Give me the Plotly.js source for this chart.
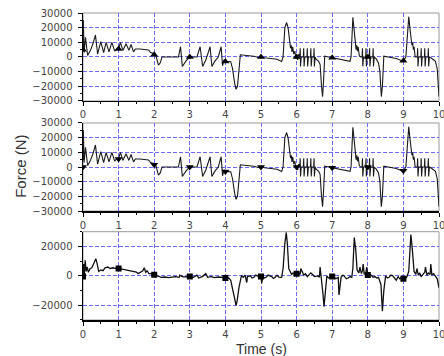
<!DOCTYPE html>
<html><head><meta charset="utf-8">
<script src="https://cdn.plot.ly/plotly-3.0.1.min.js"></script>
<style>html,body{margin:0;padding:0;background:#fff}#plot{width:444px;height:356px}</style>
</head><body><div id="plot"></div>
<script>
// Panels 1 and 2 (same curve), time in s and force in N
const timeSim = [0,0.01,0.03,0.07,0.13,0.2,0.28,0.35,0.41,0.5,0.58,0.65,0.73,0.81,0.89,0.96,1.0,1.05,1.12,1.21,1.29,1.35,1.42,1.47,1.6,1.75,1.84,1.9,1.96,2.0,2.05,2.12,2.17,2.22,2.68,2.74,2.79,2.9,3.0,3.2,3.29,3.36,3.45,3.57,3.62,3.7,3.8,3.88,3.92,3.96,4.0,4.15,4.2,4.26,4.3,4.34,4.38,4.42,4.6,4.8,4.95,5.0,5.1,5.3,5.45,5.58,5.62,5.67,5.72,5.76,5.8,5.83,5.85,5.87,5.89,5.92,5.95,5.98,6.0,6.03,6.06,
 6.09,6.1,6.11,6.13, 6.19,6.2,6.21,6.23, 6.29,6.3,6.31,6.33, 6.39,6.4,6.41,6.43, 6.48,6.49,6.5,6.52,
 6.55,6.62,6.66,6.7,6.73,6.76,6.79,6.9,7.0,7.1,7.3,7.45,7.5,7.53,7.56,7.58,7.61,7.65,7.67,7.69,7.71,7.73,7.76,7.8,
 7.84,7.85,7.86,7.88, 7.94,7.95,7.96,7.98, 8.04,8.05,8.06,8.08, 8.14,8.15,8.16,8.18,
 8.24,8.3,8.34,8.38,8.41,8.45,8.6,8.8,8.95,9.0,9.07,9.12,9.15,9.19,9.22,9.24,9.26,9.28,9.3,9.33,
 9.39,9.4,9.41,9.43, 9.49,9.5,9.51,9.53, 9.59,9.6,9.61,9.63, 9.69,9.7,9.71,9.73,
 9.8,9.9,9.95,9.98,10];
const forceSim = [5000,25000,3000,13500,1000,4000,9000,15000,2000,10500,3000,10000,3500,10000,4000,6000,5500,10000,4500,9000,4500,8500,3500,5500,5500,5200,4800,3000,2500,1500,800,-5500,-4000,0,0,7000,-6500,-2500,0,0,7000,-6500,-2000,7000,-6500,-3000,0,7000,-6000,-2000,-3000,-3200,-8000,-18000,-22000,-20000,-10000,1500,1000,500,-500,0,-500,-1000,-1500,-3000,0,20000,23500,20000,9000,6000,8000,3500,7000,2000,4000,-1000,0,-2000,2000,
 0,6000,-6500,0, 0,6000,-6500,0, 0,6000,-6500,0, 0,6000,-6500,0, 0,6000,-6500,0,
 -1500,-3000,-5000,-20000,-27000,-15000,500,0,-500,-500,-1500,-2500,-3000,0,20000,27000,20000,9000,5000,8000,4000,7000,1000,0,
 0,6000,-6500,0, 0,6000,-6500,0, 0,6000,-6500,0, 0,6000,-6500,0,
 -1500,-4000,-10000,-27000,-20000,500,0,-1000,-2500,-2500,0,18000,27500,18000,12000,8000,10000,5000,7000,0,
 0,6000,-6500,0, 0,6000,-6500,0, 0,6000,-6500,0, 0,6000,-6500,0,
 -1000,-3000,-8000,-20000,-27000];

// Panel 3 (measured)
const timeMeas = [0,0.02,0.04,0.06,0.09,0.12,0.15,0.2,0.25,0.3,0.36,0.4,0.44,0.5,0.56,0.62,0.7,0.76,0.84,0.92,1.0,1.1,1.2,1.3,1.4,1.5,1.55,1.6,1.68,1.72,1.76,1.8,1.85,1.92,2.0,2.1,2.2,2.3,2.4,2.5,2.6,2.7,2.72,2.8,2.9,3.0,3.1,3.2,3.25,3.35,3.45,3.5,3.6,3.7,3.8,3.9,4.0,4.1,4.15,4.2,4.25,4.3,4.33,4.38,4.45,4.5,4.55,4.6,4.62,4.7,4.75,4.8,4.85,4.9,4.95,5.0,5.02,5.05,5.1,5.15,5.2,5.3,5.35,5.4,5.45,5.5,5.58,5.62,5.67,5.71,5.74,5.78,5.82,5.86,5.9,5.95,6.0,6.05,6.1,6.12,6.2,6.25,6.3,6.35,6.4,6.45,6.5,6.6,6.64,6.66,6.7,6.74,6.77,6.8,6.85,6.9,6.95,7.0,7.05,7.1,7.17,7.19,7.25,7.3,7.35,7.4,7.45,7.5,7.55,7.58,7.62,7.66,7.7,7.75,7.78,7.82,7.85,7.87,7.9,7.95,7.97,8.0,8.05,8.1,8.15,8.2,8.25,8.3,8.37,8.41,8.45,8.5,8.55,8.6,8.65,8.7,8.75,8.8,8.85,8.9,8.95,9.0,9.05,9.1,9.15,9.18,9.21,9.25,9.3,9.35,9.38,9.42,9.46,9.5,9.55,9.6,9.62,9.66,9.7,9.75,9.77,9.8,9.85,9.9,9.95,10.0];
const forceMeas = [-500,8000,1000,10500,3000,6000,2500,5000,5500,8000,11700,8000,3000,4000,3500,5500,6000,5000,5500,5000,5000,4500,4000,3500,3000,2500,1500,2500,3500,5500,2500,3500,1500,1500,700,-500,-1000,-800,-1200,-800,-500,-1000,500,-700,-500,-500,-1000,500,-1500,-500,1500,-1000,-500,-1200,-800,-1000,-1500,-1500,-3000,-8000,-15000,-20000,-17000,-8000,0,-1000,500,-4500,-500,0,-1500,-1000,500,0,-1500,-500,-5000,-500,-1500,-800,500,-500,-1800,-1000,500,-800,-1000,5000,22000,29500,22000,5000,3000,1000,2000,500,1500,2500,1000,5000,500,1500,-500,500,2000,1000,-500,0,-1000,6000,-2000,-12000,-21000,-12000,0,-1500,-1000,500,-500,-2000,-1000,-13000,-1000,500,-500,-2000,-1500,-500,-1000,5000,26000,18000,4000,2000,6000,1500,3500,8000,1000,2500,6000,0,1500,500,-1000,-500,-1500,-1000,-6000,-24000,-10000,0,-1500,-1000,500,0,-1500,-3000,-500,-2000,-1000,-500,-2000,-500,3000,20000,28000,18000,3000,1000,5000,500,2000,-500,1000,2500,6000,500,2000,1000,8000,500,1500,0,-2000,-8000,-25000];

// Markers at whole seconds
const markTimes = [0,1,2,3,4,5,6,7,8,9];
const markSimUp = [5000,5500,1500,0,-3000,0,0,-500,0,-2500];
const markSimDown = [0,5500,1500,0,-3000,0,0,-500,0,-2500];
const markMeas = [-500,5000,700,-500,-1500,-500,1500,-500,500,-2000];

const xTickVals = [0,1,2,3,4,5,6,7,8,9,10];

const lineStyle = {color:'#1a1a1a', width:1.1};
const traces = [
  {x:timeSim, y:forceSim, xaxis:'x3', yaxis:'y3', mode:'lines', line:lineStyle},
  {x:markTimes, y:markSimUp, xaxis:'x3', yaxis:'y3', mode:'markers', marker:{symbol:'triangle-up', size:7, color:'#000'}},
  {x:timeSim, y:forceSim, xaxis:'x2', yaxis:'y2', mode:'lines', line:lineStyle},
  {x:markTimes, y:markSimDown, xaxis:'x2', yaxis:'y2', mode:'markers', marker:{symbol:'triangle-down', size:7, color:'#000'}},
  {x:timeMeas, y:forceMeas, xaxis:'x', yaxis:'y', mode:'lines', line:{color:'#111', width:1.3}},
  {x:markTimes, y:markMeas, xaxis:'x', yaxis:'y', mode:'markers', marker:{symbol:'square', size:6, color:'#000'}}
];

const tickFont = {family:'DejaVu Sans, Arial, sans-serif', size:10, color:'#444'};
const gridStyle = {showgrid:true, gridcolor:'#6a6aff', gridwidth:1, griddash:'4px,2px', zeroline:false};
function xAxis(anchor){
  return Object.assign({anchor:anchor, domain:[0,1], range:[0,10], tickvals:xTickVals, ticks:'outside', ticklen:4, tickwidth:1, tickcolor:'#000',
    showline:true, linecolor:'#000', linewidth:1.5, tickfont:tickFont, ticklabeloverflow:'allow',
    minor:{dtick:0.5, tick0:0, ticks:'outside', ticklen:2, tickcolor:'#000', showgrid:false}}, gridStyle);
}
function yAxis(anchor, dom, dtick, minor){
  return Object.assign({anchor:anchor, domain:dom, range:[-30000,30000], tick0:0, dtick:dtick, tickformat:'d', exponentformat:'none', ticks:'outside', ticklen:4, tickwidth:1, tickcolor:'#000',
    showline:true, linecolor:'#000', linewidth:1.5, tickfont:tickFont, ticklabelstandoff:3, ticklabeloverflow:'allow',
    minor:{dtick:minor, ticks:'outside', ticklen:2, tickcolor:'#000', showgrid:false}}, gridStyle);
}
const d1=[0.7134,1.0], d2=[0.355,0.6417], d3=[0,0.2876];
function frame(dom){
  return {type:'rect', xref:'paper', yref:'paper', x0:0, x1:1, y0:dom[0], y1:dom[1], line:{color:'#999', width:1}, layer:'below'};
}
const layout = {
  width:444, height:356, margin:{l:83, r:5, t:13, b:36},
  paper_bgcolor:'#fff', plot_bgcolor:'#fff', showlegend:false,
  separators:'.',
  xaxis: xAxis('y'), yaxis: yAxis('x', d3, 20000, 10000),
  xaxis2: xAxis('y2'), yaxis2: yAxis('x2', d2, 10000, 5000),
  xaxis3: xAxis('y3'), yaxis3: yAxis('x3', d1, 10000, 5000),
  shapes:[frame(d1), frame(d2), frame(d3)],
  annotations:[
    {text:'Time (s)', xref:'paper', yref:'paper', x:0.5, y:-0.095, yanchor:'middle', showarrow:false, font:{family:'Arial, Liberation Sans, sans-serif', size:14, color:'#333'}},
    {text:'Force (N)', xref:'paper', yref:'paper', x:-0.176, xanchor:'center', y:0.5, yanchor:'middle', textangle:-90, showarrow:false, font:{family:'Arial, Liberation Sans, sans-serif', size:15, color:'#333'}}
  ]
};
Plotly.newPlot('plot', traces, layout, {displayModeBar:false, staticPlot:true});
</script></body></html>
